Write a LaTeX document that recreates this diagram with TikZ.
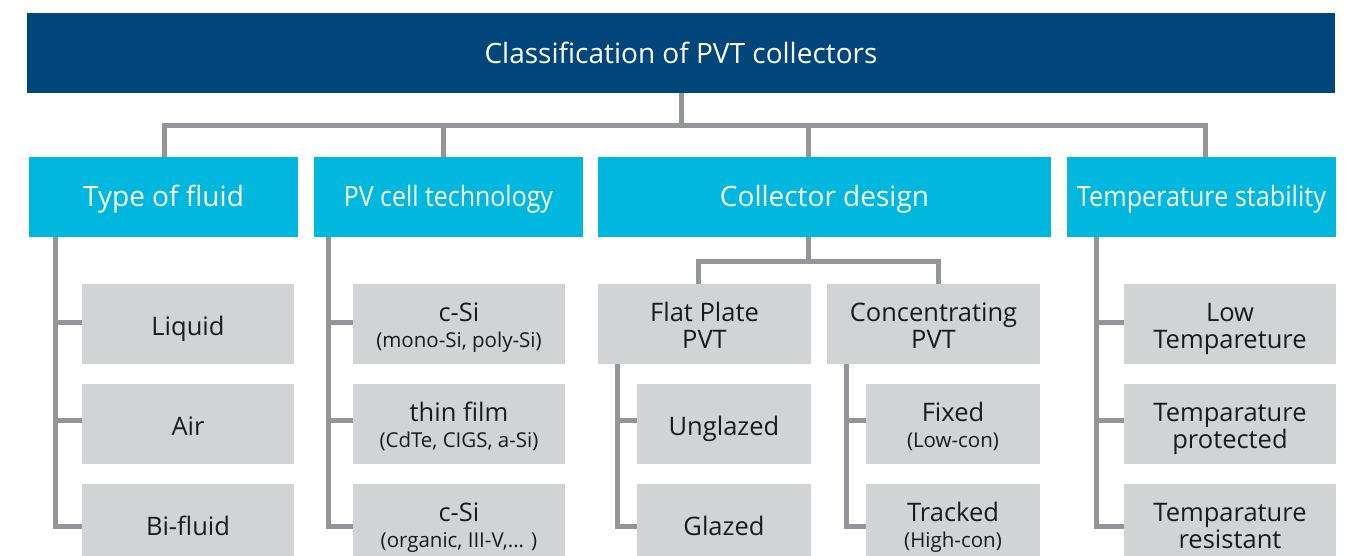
\documentclass[tikz,border=0pt]{standalone}
\usepackage{fontspec}
\usepackage{graphicx}
\setmainfont{Open Sans}
\definecolor{titleblue}{HTML}{00467A}
\definecolor{catcyan}{HTML}{00B8DE}
\definecolor{boxgray}{HTML}{D1D3D4}
\definecolor{linegray}{HTML}{939598}
\definecolor{txtcol}{HTML}{1A1A1A}
\newcommand\subtxt[1]{{\fontsize{20.5}{22}\selectfont #1}}
\newcommand\twoline[2]{\vtop{\baselineskip=27.7pt\halign{\hfil##\hfil\cr #1\cr #2\cr}}}
\newcommand\mainsub[2]{\vtop{\baselineskip=25.8pt\halign{\hfil##\hfil\cr #1\cr\subtxt{#2}\cr}}}
\begin{document}
\begin{tikzpicture}[x=1pt,y=-1pt,
  titlebox/.style={fill=titleblue, text=white, minimum height=80pt, inner sep=0pt,
    text height=20.6pt, text depth=0pt, font=\fontsize{28}{30}\selectfont},
  catbox/.style={fill=catcyan, text=white, minimum height=80pt, minimum width=269pt, inner sep=0pt,
    text height=19.4pt, text depth=0pt, font=\fontsize{28}{30}\selectfont},
  graybox/.style={fill=boxgray, text=txtcol, minimum height=80pt, minimum width=212pt, inner sep=0pt,
    font=\fontsize{25.5}{28}\selectfont},
  oneln/.style={text height=22pt, text depth=0pt},
  twoln/.style={text height=15pt, text depth=21pt},
  msln/.style={text height=15pt, text depth=19.6pt},
  conn/.style={draw=linegray, line width=5pt}]
\clip (0,0) rectangle (1347,556);
% header
\node[titlebox, minimum width=1308pt] (title) at (681,53) {Classification of PVT collectors};
% categories
\node[catbox] (fluid) at (163.5,197) {Type of fluid};
\node[catbox] (pv) at (448.5,197) {\scalebox{0.89}[1]{PV cell technology}};
\node[catbox, minimum width=453pt] (design) at (824.5,197) {Collector design};
\node[catbox] (temp) at (1201.5,197) {\scalebox{0.9}[1]{Temperature stability}};
% fluid
\node[graybox, oneln] (liquid) at (188,324) {Liquid};
\node[graybox, oneln] (air) at (188,424) {Air};
\node[graybox, oneln] (bifluid) at (188,524) {Bi-fluid};
% pv
\node[graybox, msln] (csi) at (459,324) {\mainsub{c-Si}{(mono-Si, poly-Si)}};
\node[graybox, msln] (thin) at (459,424) {\mainsub{thin film}{(CdTe, CIGS, a-Si)}};
\node[graybox, msln] (other) at (459,524) {\mainsub{c-Si}{(organic, III-V,... )}};
% design
\node[graybox, twoln, minimum width=213pt] (flat) at (704.5,324) {\twoline{Flat Plate}{PVT}};
\node[graybox, twoln, minimum width=213pt] (conc) at (933.5,324) {\twoline{Concentrating}{PVT}};
\node[graybox, oneln, minimum width=174pt] (unglazed) at (724,424) {Unglazed};
\node[graybox, oneln, minimum width=174pt] (glazed) at (724,524) {Glazed};
\node[graybox, msln, minimum width=174pt] (fixed) at (953,424) {\mainsub{Fixed}{(Low-con)}};
\node[graybox, msln, minimum width=174pt] (tracked) at (953,524) {\mainsub{Tracked}{(High-con)}};
% temperature
\node[graybox, twoln] (lowt) at (1230,324) {\twoline{Low}{Tempareture}};
\node[graybox, twoln] (tprot) at (1230,424) {\twoline{Temparature}{protected}};
\node[graybox, twoln] (tres) at (1230,524) {\twoline{Temparature}{resistant}};
% trunk coordinates
\coordinate (bus) at (681,126);
\coordinate (x1) at (164,0);
\coordinate (x2) at (443,0);
\coordinate (x3) at (808,0);
\coordinate (x4) at (1205,0);
\coordinate (tf) at (55,0);
\coordinate (tp) at (328,0);
\coordinate (tfp) at (617,0);
\coordinate (tcp) at (846,0);
\coordinate (tt) at (1096,0);
\coordinate (dc) at (808,262);
\coordinate (fx) at (698,0);
\coordinate (cx) at (938,0);
% branch entry points
\coordinate (liq-in) at ([yshift=2pt]liquid.west);
\coordinate (air-in) at ([yshift=3.5pt]air.west);
\coordinate (bif-in) at ([yshift=-2pt]bifluid.west);
\coordinate (csi-in) at ([yshift=2pt]csi.west);
\coordinate (thin-in) at ([yshift=3.5pt]thin.west);
\coordinate (oth-in) at ([yshift=-2pt]other.west);
\coordinate (ung-in) at ([yshift=3.5pt]unglazed.west);
\coordinate (gla-in) at ([yshift=-2pt]glazed.west);
\coordinate (fix-in) at ([yshift=3.5pt]fixed.west);
\coordinate (tra-in) at ([yshift=-2pt]tracked.west);
\coordinate (low-in) at ([yshift=2pt]lowt.west);
\coordinate (pro-in) at ([yshift=3.5pt]tprot.west);
\coordinate (res-in) at ([yshift=-2pt]tres.west);
% top bus
\draw[conn] (title.south) -- (bus);
\draw[conn] (x1 |- fluid.north) |- (bus);
\draw[conn] (x4 |- temp.north) |- (bus);
\draw[conn] (x2 |- pv.north) -- (x2 |- bus);
\draw[conn] (x3 |- design.north) -- (x3 |- bus);
% fluid
\draw[conn] (tf |- fluid.south) |- (bif-in);
\draw[conn] (tf |- liq-in) -- (liq-in);
\draw[conn] (tf |- air-in) -- (air-in);
% pv
\draw[conn] (tp |- pv.south) |- (oth-in);
\draw[conn] (tp |- csi-in) -- (csi-in);
\draw[conn] (tp |- thin-in) -- (thin-in);
% design
\draw[conn] (x3 |- design.south) -- (dc);
\draw[conn] (fx |- flat.north) |- (dc);
\draw[conn] (cx |- conc.north) |- (dc);
\draw[conn] (tfp |- flat.south) |- (gla-in);
\draw[conn] (tfp |- ung-in) -- (ung-in);
\draw[conn] (tcp |- conc.south) |- (tra-in);
\draw[conn] (tcp |- fix-in) -- (fix-in);
% temperature
\draw[conn] (tt |- temp.south) |- (res-in);
\draw[conn] (tt |- low-in) -- (low-in);
\draw[conn] (tt |- pro-in) -- (pro-in);
\end{tikzpicture}
\end{document}
